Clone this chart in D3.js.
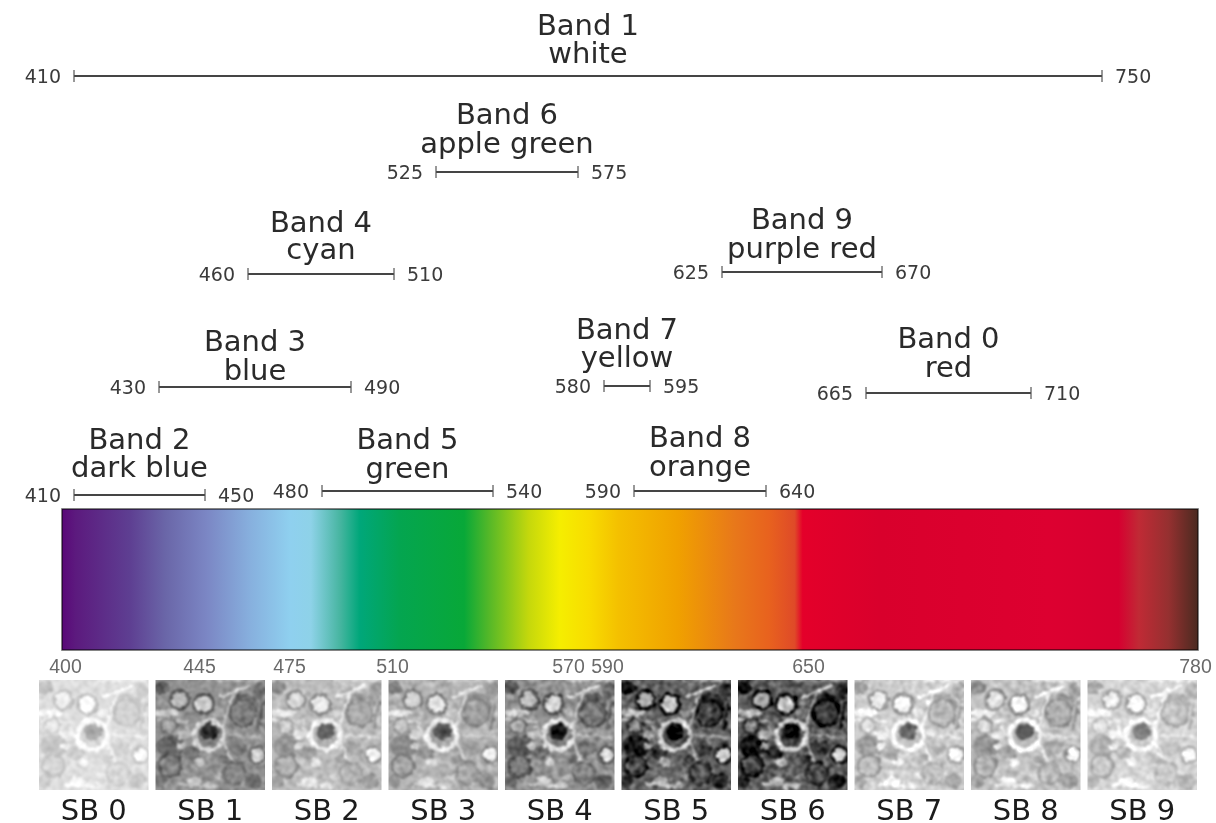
<!DOCTYPE html>
<html><head><meta charset="utf-8">
<style>html,body{margin:0;padding:0;background:#fff}svg{display:block}</style>
<script src="https://cdn.jsdelivr.net/npm/d3@7"></script>
</head><body><div id="c"></div>
<script>
// ---- data ----
const bandNames  = ["Band 1","Band 6","Band 4","Band 9","Band 3","Band 7","Band 0","Band 2","Band 5","Band 8"];
const bandColors = ["white","apple green","cyan","purple red","blue","yellow","red","dark blue","green","orange"];
const bandLow    = [410,525,460,625,430,580,665,410,480,590];
const bandHigh   = [750,575,510,670,490,595,710,450,540,640];
// the source figure's wavelength axis is not uniform: knots of the upper range axis
const rangeKnots = [400,410,430,450,460,480,490,510,525,540,575,580,590,595,625,640,665,670,710,750,780];
const scaleTicks = [400,445,475,510,570,590,650,780];
const subBands   = ["SB 0","SB 1","SB 2","SB 3","SB 4","SB 5","SB 6","SB 7","SB 8","SB 9"];
const panelBase     = [222,146,188,178,146,100, 94,205,195,212];
const panelContrast = [ 34, 66, 56, 60, 80,110,115, 64, 64, 52];
const spectrumOffsets = [0,.012,.06,.091,.127,.166,.201,.219,.245,.262,.297,.354,.376,.411,.438,.464,.49,.543,.592,.622,.645,.652,.72,.868,.93,.948,.974,1];
const spectrumColors  = ["#5a0878","#5c1a7e","#5e3f92","#6a66a8","#7b86c4","#87b0de","#8fd0ef","#8ed2e8","#46b5a0","#00a77a","#04a550","#08a838","#55b828","#c5d80c","#f5ee00","#f8dc00","#f4c000","#f0a000","#e8781a","#e8621e","#df4a28","#e4002a","#d9002c","#dd0030","#d60030","#c02a35","#953030","#4a2a20"];
// ---- layout ----
const W=1216,H=823;
const rangeX = d3.scaleLinear().domain(rangeKnots)
  .range([62,74,159,205,248,322,351,394,436,493,578,604,634,650,722,766,866,882,1031,1102,1198]);
const tickX = d3.scaleLinear().domain(scaleTicks).range([65,199,289,392,568,607,808,1195]);
const rowY = d3.scaleOrdinal().domain(bandNames).range([76,172,274,272,387,386,393,495,491,491]);
const titleRise = d3.scaleOrdinal().domain(bandNames).range([41,48,42,43,36,47,45,46,42,44]);
const subRise   = d3.scaleOrdinal().domain(bandNames).range([13,19,15,14,7,19,16,18,13,15]);
const panelX = d3.scaleBand().domain(subBands).range([39,1197]).paddingInner(.06);
const panelTop=680,panelH=110;
const font='"DejaVu Sans",sans-serif';

const svg=d3.select("#c").append("svg").attr("width",W).attr("height",H).attr("viewBox",`0 0 ${W} ${H}`);
const defs=svg.append("defs");
const soft=defs.append("filter").attr("id","soft").attr("x","-5%").attr("y","-20%").attr("width","110%").attr("height","140%");
soft.append("feGaussianBlur").attr("stdDeviation",.45);
const lineSoft=defs.append("filter").attr("id","lineSoft").attr("filterUnits","userSpaceOnUse").attr("x",0).attr("y",0).attr("width",W).attr("height",H);
lineSoft.append("feGaussianBlur").attr("stdDeviation",.45);

const grad=defs.append("linearGradient").attr("id","spec");
grad.selectAll("stop").data(spectrumOffsets).join("stop")
  .attr("offset",d=>d).attr("stop-color",(d,i)=>spectrumColors[i]);

// spectrum bar
const barX=rangeX(400),barW=rangeX(780)-barX;
svg.append("rect").attr("x",barX).attr("y",509).attr("width",barW).attr("height",141).attr("fill","url(#spec)");
svg.append("rect").attr("x",barX).attr("y",509).attr("width",barW).attr("height",141)
  .attr("fill","none").attr("stroke","#000").attr("stroke-opacity",.6).attr("stroke-width",1.6).attr("filter","url(#lineSoft)");

// band brackets
const g=svg.append("g").attr("filter","url(#lineSoft)");
const bands=g.selectAll("g.band").data(bandNames).join("g").attr("class","band");
bands.append("line").attr("x1",(d,i)=>rangeX(bandLow[i])).attr("x2",(d,i)=>rangeX(bandHigh[i]))
  .attr("y1",d=>rowY(d)).attr("y2",d=>rowY(d)).attr("stroke","#444").attr("stroke-width",1.8);
[bandLow,bandHigh].forEach(arr=>{
  bands.append("line").attr("x1",(d,i)=>rangeX(arr[i])).attr("x2",(d,i)=>rangeX(arr[i]))
    .attr("y1",d=>rowY(d)-6).attr("y2",d=>rowY(d)+6).attr("stroke","#555").attr("stroke-width",1.2);
});
const rangeLabel=(arr,dx,anchor)=>bands.append("text").text((d,i)=>arr[i])
   .attr("font-family",font).attr("font-size",19).attr("fill","#3a3a3a").attr("text-anchor",anchor)
   .attr("x",(d,i)=>rangeX(arr[i])+dx).attr("y",d=>rowY(d)+7);
rangeLabel(bandLow,-13,"end"); rangeLabel(bandHigh,13,"start");
const midX=(d,i)=>(rangeX(bandLow[i])+rangeX(bandHigh[i]))/2;
bands.append("text").text(d=>d).attr("font-family",font).attr("font-size",29).attr("fill","#2a2a2a").attr("text-anchor","middle")
   .attr("x",midX).attr("y",d=>rowY(d)-titleRise(d));
bands.append("text").text((d,i)=>bandColors[i]).attr("font-family",font).attr("font-size",29).attr("fill","#2a2a2a").attr("text-anchor","middle")
   .attr("x",midX).attr("y",d=>rowY(d)-subRise(d));

// wavelength ticks under the bar
const axis=svg.append("g").attr("transform","translate(0,673)")
  .call(d3.axisTop(tickX).tickValues(scaleTicks).tickSize(0).tickPadding(0).tickFormat(d3.format("d")));
axis.select(".domain").remove();
axis.selectAll("text").attr("font-family",'"Liberation Sans",sans-serif').attr("font-size",19.5).attr("fill","#6a6a6a").attr("filter","url(#soft)");

// micrograph tiles: the same field of cells, shown at each sub-band's brightness and contrast
const rings=[[.22,.18,.085,-.8,.55],[.44,.22,.09,-.9,.9],[.13,.78,.1,-.8,-.2],[.8,.3,.12,-.8,-.3],[.93,.68,.075,-.7,1],[.72,.85,.1,-.5,-.15],[.12,.42,.07,-.4,.35]];
const blobs=[[.14,.6,.13,.1,-.7],[.8,.22,.14,.1,-.55],[.05,.07,.08,.06,-.8],[.74,.62,.1,.07,-.35],[.33,.66,.08,.06,-.5],[.35,.92,.07,.04,.8],[.4,.75,.05,.04,.7],[.1,.3,.12,.035,.8],[.62,.88,.09,.03,.4],[.25,.5,.06,.04,.6],[.58,.3,.05,.04,.4],[.95,.1,.06,.08,-.5],[.9,.92,.08,.07,-.6],[.5,.96,.08,.03,.5],[.24,.6,.04,.03,.6],[.62,.72,.05,.04,-.4],[.05,.92,.06,.06,-.5]];
const streaks=[[.58,.16,.86,.05,.95],[.62,.42,.72,.1,.65],[.62,.56,.78,.92,.65],[.22,.95,.55,.97,.8],[.28,.42,.38,.62,.55],[.98,.2,.93,.45,-.7],[.55,.0,.98,.0,.6],[.0,.36,.3,.38,.6],[.66,.5,.98,.52,.45]];
subBands.forEach((name,k)=>{
  const x=panelX(name),w=panelX.bandwidth(),tone=t=>{const v=Math.max(0,Math.min(255,Math.round(panelBase[k]+t*panelContrast[k])));return d3.rgb(v,v,v)+"";};
  const fid="tex"+k,cid="clip"+k,m=14;
  const f=defs.append("filter").attr("id",fid).attr("filterUnits","userSpaceOnUse").attr("x",x-m).attr("y",panelTop-m).attr("width",w+2*m).attr("height",panelH+2*m).attr("color-interpolation-filters","sRGB");
  f.append("feTurbulence").attr("type","fractalNoise").attr("baseFrequency",.17).attr("numOctaves",2).attr("seed",7).attr("result","n");
  f.append("feDisplacementMap").attr("in","SourceGraphic").attr("in2","n").attr("scale",6).attr("xChannelSelector","R").attr("yChannelSelector","G").attr("result","d");
  f.append("feGaussianBlur").attr("in","d").attr("stdDeviation",1.1).attr("result","b");
  f.append("feColorMatrix").attr("in","n").attr("type","matrix").attr("values","1 0 0 0 0 1 0 0 0 0 1 0 0 0 0 0 0 0 0 1").attr("result","ng");
  f.append("feGaussianBlur").attr("in","ng").attr("stdDeviation",.8).attr("result","ngb");
  const amt=panelContrast[k]/255*1.5;
  f.append("feComposite").attr("in","b").attr("in2","ngb").attr("operator","arithmetic").attr("k1",0).attr("k2",1).attr("k3",amt).attr("k4",-amt/2);
  defs.append("clipPath").attr("id",cid).append("rect").attr("x",x).attr("y",panelTop).attr("width",w).attr("height",panelH);
  const outer=svg.append("g").attr("clip-path",`url(#${cid})`);
  const p=outer.append("g").attr("filter",`url(#${fid})`);
  const sx=d3.scaleLinear().range([x,x+w]),sy=d3.scaleLinear().range([panelTop,panelTop+panelH]);
  p.append("rect").attr("x",x-m).attr("y",panelTop-m).attr("width",w+2*m).attr("height",panelH+2*m).attr("fill",tone(0));
  p.selectAll("ellipse").data(blobs).join("ellipse").attr("cx",d=>sx(d[0])).attr("cy",d=>sy(d[1])).attr("rx",d=>d[2]*w).attr("ry",d=>d[3]*panelH).attr("fill",d=>tone(d[4]));
  p.selectAll("line").data(streaks).join("line").attr("x1",d=>sx(d[0])).attr("y1",d=>sy(d[1])).attr("x2",d=>sx(d[2])).attr("y2",d=>sy(d[3])).attr("stroke",d=>tone(d[4])).attr("stroke-width",3);
  p.selectAll("circle").data(rings).join("circle").attr("cx",d=>sx(d[0])).attr("cy",d=>sy(d[1])).attr("r",d=>d[2]*w).attr("fill",d=>tone(d[4])).attr("stroke",d=>tone(d[3])).attr("stroke-width",3);
  // central nucleus inside its bright halo
  p.append("circle").attr("cx",sx(.49)).attr("cy",sy(.5)).attr("r",.135*w).attr("fill",tone(-.2)).attr("stroke",tone(1)).attr("stroke-width",4.5);
  p.append("ellipse").attr("cx",sx(.49)).attr("cy",sy(.47)).attr("rx",.08*w).attr("ry",.075*panelH).attr("fill",tone(-1.6));
});
// sub-band labels
svg.selectAll("text.sb").data(subBands).join("text").attr("class","sb").text(d=>d)
  .attr("font-family",font).attr("font-size",29).attr("fill","#1a1a1a").attr("text-anchor","middle")
  .attr("filter","url(#soft)")
  .attr("x",d=>panelX(d)+panelX.bandwidth()/2).attr("y",820);
</script></body></html>
